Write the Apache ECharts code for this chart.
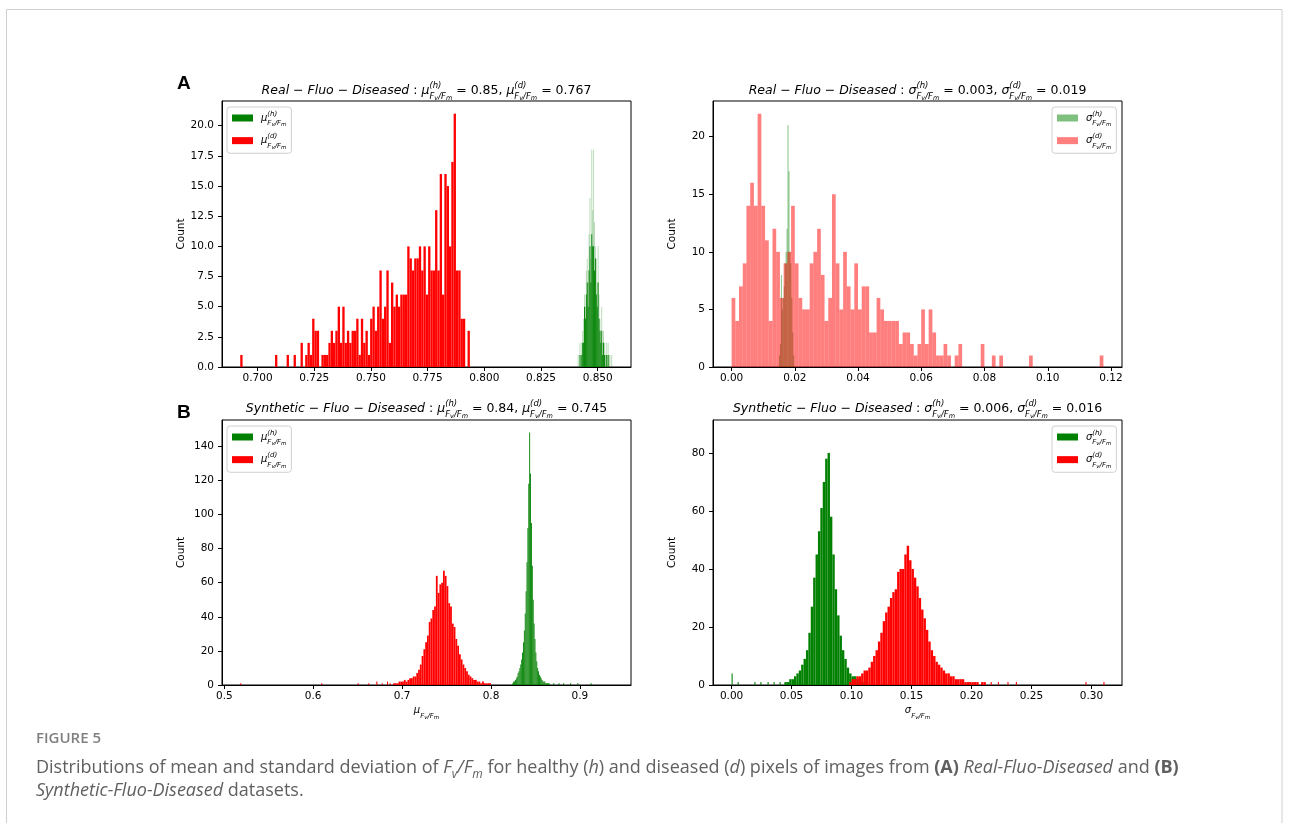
<!DOCTYPE html>
<html>
<head>
<meta charset="utf-8">
<script src="https://cdn.jsdelivr.net/npm/echarts@6/dist/echarts.min.js"></script>
<style>
  html, body { margin: 0; padding: 0; background: #fff; }
  #chart { width: 1292px; height: 823px; }
</style>
</head>
<body>
<div id="chart"></div>
<script>
// ---- (A) Real-Fluo-Diseased : mean of Fv/Fm ----
const muA_d_start = 0.69235, muA_d_step = 0.001023;
const muA_d_counts = [1,0,0,0,0,0,0,0,0,0, 0,0,0,0,0,1,0,0,0,0, 1,0,0,1,0,0,2,0,1,2,
  1,4,3,3,0,1,1,1,2,3, 2,3,5,2,5,2,3,2,3,3, 4,1,4,2,3,1,4,5,3,5,
  8,4,5,8,2,7,5,6,5,6, 6,6,10,9,8,9,9,10,8,10, 6,10,8,8,13,8,16,6,16,15,
  10,17,21,8,8,4,4,0,3];
const muA_h_start = 0.8412, muA_h_step = 0.0004;
const muA_h_core = [0,0,1,0,1,2,2,5,4,6, 7,5,8,10,7,11,10,10,8,9, 6,5,7,4,3,2,3,1,2,1, 0,1,0,1,0,0,0,0];
const muA_h_peaks = [1,0,2,1,2,3,4,6,5,8, 9,7,11,14,9,18,13,18,12,10, 9,7,10,6,4,3,5,2,3,2, 1,2,1,2,1,1,0,1];

// ---- (A) Real-Fluo-Diseased : std of Fv/Fm ----
const sigA_d_start = 0, sigA_d_step = 0.001176;
const sigA_d_counts = [6,4,7,9,14,16,14,22,14,11, 4,12,10,6,9,10,14,9,6,5,
  5,9,10,12,8,4,6,15,9,5, 10,7,5,9,5,7,7,3,3,6, 5,4,4,4,4,2,3,3,2,1,
  2,5,2,5,3,1,1,2,1,0, 1,2,0,0,0,0,0,2,0,0, 1,0,1,0,0,0,0,0,0,0,
  1,0,0,0,0,0,0,0,0,0, 0,0,0,0,0,0,0,0,0,1];
const sigA_h_start = 0.0150, sigA_h_step = 0.0003;
const sigA_h_counts = [1,2,8,5,6,7,9,10,12,21,17,10,9,6,3,1];

// ---- (B) Synthetic-Fluo-Diseased : mean of Fv/Fm ----
const muB_d_start = 0.690, muB_d_step = 0.002;
const muB_d_counts = [1,1,1,2,2,2,3,2,3,4, 4,5,5,7,9,12,17,21,25,29,
  37,39,44,46,64,54,59,60,67,64, 58,48,46,36,34,27,23,18,15,12,
  10,8,6,5,4,3,3,2,2,1, 2,1,1,1,1];
const muB_d_tailX = [0.518, 0.609, 0.650, 0.662, 0.671, 0.677, 0.683, 0.686];
const muB_d_tailN = [1, 1, 1, 1, 2, 1, 2, 1];
const muB_h_start = 0.824, muB_h_step = 0.001;
const muB_h_counts = [1,2,2,3,4,5,7,8,10,12, 15,19,25,32,42,55,72,92,118,148,
  124,95,70,50,36,27,19,14,10,8, 6,5,4,3,2,2,2,1,1,1, 1,1];
const muB_h_tailX = [0.870, 0.876, 0.881, 0.889, 0.897, 0.912];
const muB_h_tailN = [1, 1, 1, 1, 1, 1];

// ---- (B) Synthetic-Fluo-Diseased : std of Fv/Fm ----
const sigB_h_start = 0.044, sigB_h_step = 0.002;
const sigB_h_counts = [1,1,2,2,3,4,5,7,9,12, 18,27,37,45,53,61,70,78,80,58,
  45,33,24,17,12,9,6,4,3,3, 2,1,1,1,1];
const sigB_h_tailX = [0.000, 0.005, 0.019, 0.024, 0.030, 0.035, 0.040];
const sigB_h_tailN = [4, 1, 1, 1, 1, 1, 1];
const sigB_d_start = 0.098, sigB_d_step = 0.002;
const sigB_d_counts = [1,2,2,3,3,4,5,5,6,8, 10,12,15,18,22,25,27,30,32,33,
  39,40,40,45,48,43,40,37,34,30, 26,23,19,15,12,10,8,7,6,5,
  4,4,3,3,2,2,2,2,1,1, 1,1,1,1,0,1,1];
const sigB_d_tailX = [0.216, 0.222, 0.230, 0.237, 0.295, 0.310];
const sigB_d_tailN = [1, 1, 1, 1, 1, 1];

// tick labels
const muA_xTicks = [0.700, 0.725, 0.750, 0.775, 0.800, 0.825, 0.850];
const muA_yTicks = [0, 2.5, 5, 7.5, 10, 12.5, 15, 17.5, 20];
const sigA_xTicks = [0, 0.02, 0.04, 0.06, 0.08, 0.10, 0.12];
const sigA_yTicks = [0, 5, 10, 15, 20];
const muB_xTicks = [0.5, 0.6, 0.7, 0.8, 0.9];
const muB_yTicks = [0, 20, 40, 60, 80, 100, 120, 140];
const sigB_xTicks = [0, 0.05, 0.10, 0.15, 0.20, 0.25, 0.30];
const sigB_yTicks = [0, 20, 40, 60, 80];

const F = 'DejaVu Sans';

function bins(start, step, counts) {
  return counts.map((c, i) => [start + i * step, start + (i + 1) * step, c]).filter(d => d[2] > 0);
}
function tails(xs, ns, w) {
  return xs.map((x, i) => [x, x + w, ns[i]]);
}

function renderBin(params, api) {
  const a = api.coord([api.value(0), api.value(2)]);
  const b = api.coord([api.value(1), 0]);
  const cs = params.coordSys;
  const r = echarts.graphic.clipRectByRect(
    { x: a[0], y: a[1], width: Math.max(b[0] - a[0], 0.8), height: b[1] - a[1] },
    { x: cs.x, y: cs.y, width: cs.width, height: cs.height });
  return r && { type: 'rect', shape: r, style: { fill: api.visual('color') } };
}

function hist(name, idx, data, color) {
  return {
    name: name, type: 'custom', xAxisIndex: idx, yAxisIndex: idx,
    renderItem: renderBin, clip: true, silent: true,
    encode: { x: [0, 1], y: 2 },
    itemStyle: { color: color }, data: data
  };
}

// rich text pieces for math labels like mu^{(h)}_{Fv/Fm}
function sym(s, tag) {
  return '{m|' + s + '}' + (tag ? '{sup|(' + tag + ')}' : '') + '{s|F}{ss|v}{s|/F}{ss|m}';
}
function tok(size, italic, extra) {
  return Object.assign({ fontFamily: F, fontSize: size, fontStyle: italic ? 'italic' : 'normal',
    fontWeight: 'normal', color: '#000', align: 'left' }, extra || {});
}
function mathRich(big, small, tiny, lh) {
  return {
    it: tok(big, true), n: tok(big, false), m: tok(big, true),
    sup: tok(small, true, { width: 0, verticalAlign: 'top', height: lh * 0.5 }),
    s: tok(small, true, { verticalAlign: 'bottom', height: lh * 0.33 }),
    ss: tok(tiny, true, { verticalAlign: 'bottom', height: lh * 0.17 })
  };
}
const titleRich = mathRich(12.5, 8.5, 6.5, 18);
const legendRich = mathRich(10, 7, 5.5, 16);

function plotTitle(prefix, s, v1, v2, cx, top) {
  return {
    text: '{it|' + prefix + ' − Fluo − Diseased}{n| : }' + sym(s, 'h') + '{n| = ' + v1 + ', }' +
      sym(s, 'd') + '{n| = ' + v2 + '}',
    left: cx, top: top, textAlign: 'center', padding: 0,
    textStyle: { fontWeight: 'normal', lineHeight: 18, rich: titleRich }
  };
}

const legendLabels = {
  muA_h: sym('μ', 'h'), muA_d: sym('μ', 'd'),
  sigA_h: sym('σ', 'h'), sigA_d: sym('σ', 'd'),
  muB_h: sym('μ', 'h'), muB_d: sym('μ', 'd'),
  sigB_h: sym('σ', 'h'), sigB_d: sym('σ', 'd')
};
function legendBox(names, left, top) {
  return {
    data: names, left: left, top: top, orient: 'vertical', icon: 'rect',
    itemWidth: 21, itemHeight: 7, itemGap: 5, padding: [3, 5, 3, 5],
    backgroundColor: '#fff', borderColor: '#d0d0d0', borderWidth: 1, borderRadius: 3,
    selectedMode: false, formatter: n => legendLabels[n],
    textStyle: { lineHeight: 16, padding: [0, 0, 0, 3], rich: legendRich }
  };
}

const grids = [
  { left: 222, top: 101, width: 409, height: 266 },
  { left: 713, top: 101, width: 409, height: 266 },
  { left: 222, top: 420, width: 409, height: 265 },
  { left: 713, top: 420, width: 409, height: 265 }
];
const axisLine = { show: true, onZero: false, lineStyle: { color: '#000', width: 1 } };

function xAxis(idx, min, max, ticks, dec, name) {
  return {
    type: 'value', gridIndex: idx, min: min, max: max,
    axisLine: axisLine, splitLine: { show: false },
    axisTick: { show: true, inside: false, length: 4, customValues: ticks, lineStyle: { color: '#000' } },
    axisLabel: { customValues: ticks, formatter: v => v.toFixed(dec), margin: 6,
      fontFamily: F, fontSize: 10.5, color: '#000' },
    name: name || '', nameLocation: 'middle', nameGap: 17,
    nameTextStyle: { lineHeight: 16, rich: legendRich }
  };
}
function yAxis(idx, max, ticks, dec) {
  return {
    type: 'value', gridIndex: idx, min: 0, max: max,
    axisLine: axisLine, splitLine: { show: false },
    axisTick: { show: true, inside: false, length: 4, customValues: ticks, lineStyle: { color: '#000' } },
    axisLabel: { customValues: ticks, formatter: v => v.toFixed(dec), margin: 8,
      fontFamily: F, fontSize: 10.5, color: '#000' },
    name: 'Count', nameLocation: 'middle', nameRotate: 90, nameGap: 35,
    nameTextStyle: { fontFamily: F, fontSize: 10.5, color: '#000' }
  };
}

const capTok = (extra) => Object.assign({ fontFamily: 'Open Sans', fontSize: 18, fontWeight: 'normal',
  fontStyle: 'normal', color: '#606060', align: 'left' }, extra || {});
const capRich = {
  c: capTok(),
  ci: capTok({ fontStyle: 'italic' }),
  cb: capTok({ fontWeight: 'bold' }),
  cs: capTok({ fontSize: 12, fontStyle: 'italic', verticalAlign: 'bottom', height: 8 })
};

const chart = echarts.init(document.getElementById('chart'), null, { renderer: 'canvas' });
chart.setOption({
  backgroundColor: '#fff',
  animation: false,
  title: [
    plotTitle('Real', 'μ', '0.85', '0.767', 426.5, 81.5),
    plotTitle('Real', 'σ', '0.003', '0.019', 917.5, 81.5),
    plotTitle('Synthetic', 'μ', '0.84', '0.745', 426.5, 399.5),
    plotTitle('Synthetic', 'σ', '0.006', '0.016', 917.5, 399.5),
    { text: 'A', left: 177, top: 74, padding: 0,
      textStyle: { fontFamily: 'Liberation Sans', fontWeight: 'bold', fontSize: 19, color: '#000' } },
    { text: 'B', left: 177, top: 403, padding: 0,
      textStyle: { fontFamily: 'Liberation Sans', fontWeight: 'bold', fontSize: 19, color: '#000' } },
    { text: 'FIGURE 5', left: 36, top: 731, padding: 0,
      textStyle: { fontFamily: 'Open Sans', fontWeight: 600, fontSize: 15, color: '#808080' } },
    { text: '{c|Distributions of mean and standard deviation of }{ci|F}{cs|v}{ci|/F}{cs|m}' +
        '{c| for healthy (}{ci|h}{c|) and diseased (}{ci|d}{c|) pixels of images from }{cb|(A)}{c| }' +
        '{ci|Real-Fluo-Diseased}{c| and }{cb|(B)}',
      left: 36, top: 756, padding: 0,
      textStyle: { fontWeight: 'normal', lineHeight: 23, rich: capRich } },
    { text: '{ci|Synthetic-Fluo-Diseased}{c| datasets.}',
      left: 36, top: 779, padding: 0,
      textStyle: { fontWeight: 'normal', lineHeight: 23, rich: capRich } }
  ],
  legend: [
    legendBox(['muA_h', 'muA_d'], 227, 107),
    legendBox(['sigA_h', 'sigA_d'], 1052, 107),
    legendBox(['muB_h', 'muB_d'], 227, 426),
    legendBox(['sigB_h', 'sigB_d'], 1052, 426)
  ],
  grid: grids.map(g => Object.assign({ show: true, borderColor: '#000', borderWidth: 1,
    backgroundColor: '#fff' }, g)),
  xAxis: [
    xAxis(0, 0.6843, 0.8647, muA_xTicks, 3),
    xAxis(1, -0.00588, 0.12348, sigA_xTicks, 2),
    xAxis(2, 0.4974, 0.9575, muB_xTicks, 1, sym('μ')),
    xAxis(3, -0.0155, 0.3255, sigB_xTicks, 2, sym('σ'))
  ],
  yAxis: [
    yAxis(0, 22.05, muA_yTicks, 1),
    yAxis(1, 23.1, sigA_yTicks, 0),
    yAxis(2, 155.4, muB_yTicks, 0),
    yAxis(3, 91.35, sigB_yTicks, 0)
  ],
  series: [
    hist('muA_h_peaks', 0, bins(muA_h_start, muA_h_step, muA_h_peaks), 'rgba(0,128,0,0.3)'),
    hist('muA_h', 0, bins(muA_h_start, muA_h_step, muA_h_core), '#008000'),
    hist('muA_d', 0, bins(muA_d_start, muA_d_step, muA_d_counts), '#ff0000'),

    hist('sigA_h', 1, bins(sigA_h_start, sigA_h_step, sigA_h_counts), 'rgba(0,128,0,0.5)'),
    hist('sigA_d', 1, bins(sigA_d_start, sigA_d_step, sigA_d_counts), 'rgba(255,0,0,0.5)'),

    hist('muB_h', 2, bins(muB_h_start, muB_h_step, muB_h_counts)
      .concat(tails(muB_h_tailX, muB_h_tailN, 0.0012)), '#008000'),
    hist('muB_d', 2, bins(muB_d_start, muB_d_step, muB_d_counts)
      .concat(tails(muB_d_tailX, muB_d_tailN, 0.0012)), '#ff0000'),

    hist('sigB_h', 3, bins(sigB_h_start, sigB_h_step, sigB_h_counts)
      .concat(tails(sigB_h_tailX, sigB_h_tailN, 0.0009)), '#008000'),
    hist('sigB_d', 3, bins(sigB_d_start, sigB_d_step, sigB_d_counts)
      .concat(tails(sigB_d_tailX, sigB_d_tailN, 0.0009)), '#ff0000')
  ],
  graphic: [
    { type: 'rect', silent: true, z: -10,
      shape: { x: 6.5, y: 9.5, width: 1275.5, height: 840 },
      style: { fill: 'none', stroke: '#cfcfcf', lineWidth: 1 } }
  ]
});
</script>
</body>
</html>
